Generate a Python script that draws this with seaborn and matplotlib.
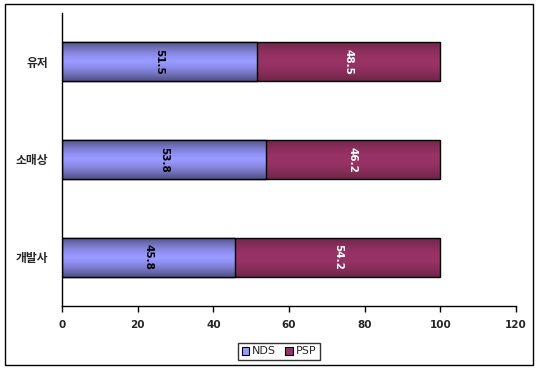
import matplotlib
matplotlib.use("Agg")
import matplotlib.pyplot as plt
import seaborn as sns
import pandas as pd
import numpy as np
from matplotlib.patches import Rectangle, Patch

categories = ["유저", "소매상", "개발사"]
nds = [51.5, 53.8, 45.8]
psp = [48.5, 46.2, 54.2]
xticks = [0, 20, 40, 60, 80, 100, 120]

sns.set_theme(style="white")
plt.rcParams["font.family"] = ["DejaVu Sans", "Noto Sans CJK KR"]

df = pd.DataFrame({"cat": categories, "NDS": nds, "PSP": psp})
df["total"] = df["NDS"] + df["PSP"]

fig = plt.figure(figsize=(5.38, 3.69), dpi=100)
ax = fig.add_axes([62/538, 63/369, (516-62)/538, (306-13)/369])

c_nds = "#9999FF"
c_psp = "#993366"

sns.barplot(data=df, y="cat", x="total", order=categories, color=c_psp,
            saturation=1, width=0.4, edgecolor="black", linewidth=1, ax=ax)
sns.barplot(data=df, y="cat", x="NDS", order=categories, color=c_nds,
            saturation=1, width=0.4, edgecolor="black", linewidth=1, ax=ax)

# subtle cylinder-like shading on each bar (derived from bar geometry)
t = np.linspace(0, 1, 64)
alpha = 0.45 * np.abs(t - 0.5) * 2
alpha = alpha ** 1.6
grad = np.zeros((64, 1, 4))
grad[:, 0, 3] = alpha
for p in list(ax.patches):
    x0, y0 = p.get_x(), p.get_y()
    w, h = p.get_width(), p.get_height()
    im = ax.imshow(grad, extent=(x0, x0 + w, y0 + h, y0), aspect="auto",
                   zorder=p.get_zorder() + 0.01, interpolation="bilinear")
    im.set_clip_path(p)

for i, (a, b) in enumerate(zip(nds, psp)):
    ax.text(a / 2, i, f"{a}", rotation=-90, ha="center", va="center",
            fontsize=7.5, fontweight="bold", color="black", zorder=5)
    ax.text(a + b / 2, i, f"{b}", rotation=-90, ha="center", va="center",
            fontsize=7.5, fontweight="bold", color="white", zorder=5)

ax.set_xlim(0, 120)
ax.set_ylim(2.5, -0.5)
ax.set_aspect("auto")
ax.set_xticks(xticks)
ax.set_xticklabels([str(t) for t in xticks], fontsize=7.5, fontweight="bold")
ax.set_yticks(range(len(categories)))
ax.set_yticklabels(categories, fontsize=8.5, fontweight="bold",
                   family=["Noto Sans CJK KR", "DejaVu Sans"])
ax.set_xlabel("")
ax.set_ylabel("")
ax.tick_params(axis="x", direction="out", length=4, width=1, color="black", pad=6, bottom=True)
ax.tick_params(axis="y", length=0, pad=10)
for s in ["top", "right"]:
    ax.spines[s].set_visible(False)
for s in ["left", "bottom"]:
    ax.spines[s].set_color("black")
    ax.spines[s].set_linewidth(1)
    ax.spines[s].set_zorder(6)

handles = [Patch(facecolor=c_nds, edgecolor="black", linewidth=0.8),
           Patch(facecolor=c_psp, edgecolor="black", linewidth=0.8)]
leg = fig.legend(handles, ["NDS", "PSP"], loc="center", bbox_to_anchor=(279/538, 1 - 351.5/369),
                 ncol=2, fontsize=8, frameon=True, fancybox=False, handlelength=0.7,
                 handleheight=0.7, handletextpad=0.25, columnspacing=0.8,
                 borderpad=0.3, borderaxespad=0)
leg.get_frame().set_edgecolor("black")
leg.get_frame().set_linewidth(1)

fig.patches.append(Rectangle((5/538, 4/369), 528/538, 361/369, transform=fig.transFigure,
                             fill=False, edgecolor="black", linewidth=1))

fig.savefig("out.png", dpi=100)
